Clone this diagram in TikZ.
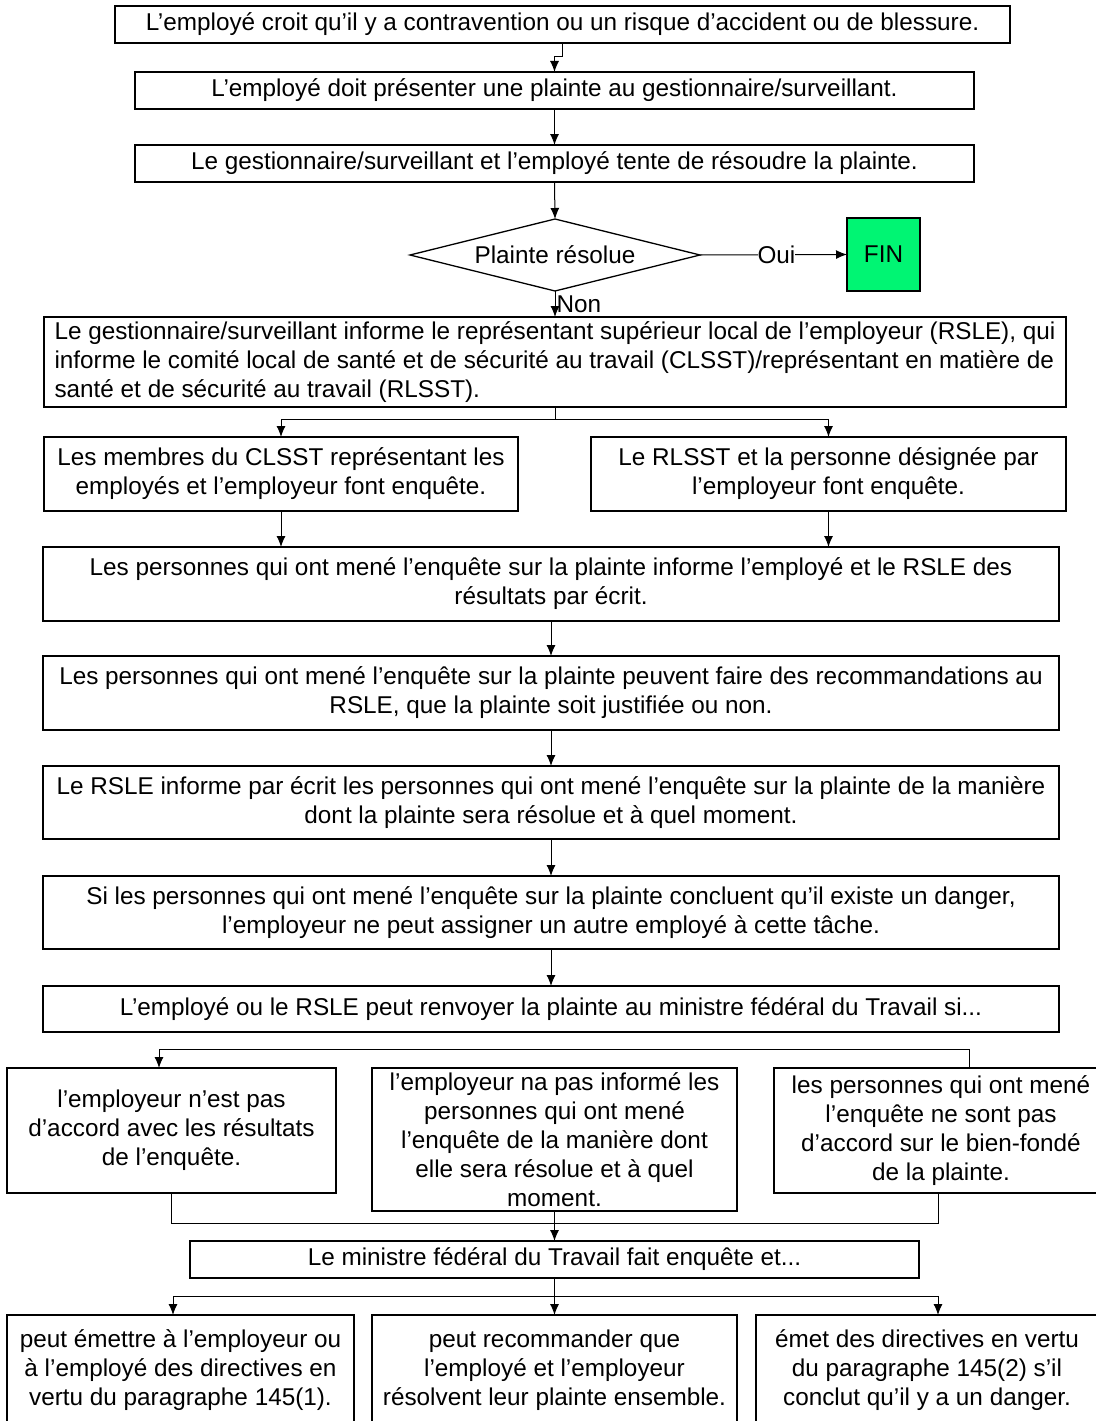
\documentclass[tikz,border=0pt]{standalone}
\usepackage{fontspec}
\setmainfont{Liberation Sans}
\usetikzlibrary{arrows.meta,shapes.geometric}
\definecolor{fingreen}{RGB}{0,245,115}
\begin{document}
\begin{tikzpicture}[x=1pt,y=-1pt,
  box/.style={draw=black,line width=1.3pt,align=center,inner sep=0pt,outer sep=0pt,font=\fontsize{24.3}{29}\selectfont},
  lbox/.style={box,align=left},
  conn/.style={line width=1pt},
  arr/.style={conn,-{Latex[length=11pt,width=9pt]}},
  lbl/.style={font=\fontsize{24.3}{29}\selectfont,inner sep=0pt}]
\useasboundingbox (0,0) rectangle (1095,1421);

\node[box,minimum width=895,minimum height=37] (b1) at (562.5,24.5) {L’employé croit qu’il y a contravention ou un risque d’accident ou de blessure.};
\node[box,minimum width=839,minimum height=37] (b2) at (554.5,90.5) {L’employé doit présenter une plainte au gestionnaire/surveillant.};
\node[box,minimum width=839,minimum height=37] (b3) at (554.5,163.5) {Le gestionnaire/surveillant et l’employé tente de résoudre la plainte.};
\node[box,diamond,aspect=4,minimum width=290,minimum height=72] (d) at (555,255) {Plainte résolue};
\node[box,fill=fingreen,minimum width=73,minimum height=73] (fin) at (883.5,254.5) {FIN};
\node[lbox,minimum width=1022,minimum height=90] (b4) at (555,362) {Le gestionnaire/surveillant informe le représentant supérieur local de l’employeur (RSLE), qui\\informe le comité local de santé et de sécurité au travail (CLSST)/représentant en matière de\\santé et de sécurité au travail (RLSST).};
\node[box,minimum width=474,minimum height=74] (b5l) at (281,474) {Les membres du CLSST représentant les\\employés et l’employeur font enquête.};
\node[box,minimum width=475,minimum height=74] (b5r) at (828.5,474) {Le RLSST et la personne désignée par\\l’employeur font enquête.};
\node[box,minimum width=1016,minimum height=74] (b6) at (551,584) {Les personnes qui ont mené l’enquête sur la plainte informe l’employé et le RSLE des\\résultats par écrit.};
\node[box,minimum width=1016,minimum height=74] (b7) at (551,693) {Les personnes qui ont mené l’enquête sur la plainte peuvent faire des recommandations au\\RSLE, que la plainte soit justifiée ou non.};
\node[box,minimum width=1016,minimum height=73] (b8) at (551,802.5) {Le RSLE informe par écrit les personnes qui ont mené l’enquête sur la plainte de la manière\\dont la plainte sera résolue et à quel moment.};
\node[box,minimum width=1016,minimum height=73] (b9) at (551,912.5) {Si les personnes qui ont mené l’enquête sur la plainte concluent qu’il existe un danger,\\l’employeur ne peut assigner un autre employé à cette tâche.};
\node[box,minimum width=1016,minimum height=46] (b10) at (551,1009) {L’employé ou le RSLE peut renvoyer la plainte au ministre fédéral du Travail si...};
\node[box,minimum width=329,minimum height=125] (m1l) at (171.5,1130.5) {l’employeur n’est pas\\d’accord avec les résultats\\de l’enquête.};
\node[box,minimum width=365,minimum height=143] (m1m) at (554.5,1139.5) {l’employeur na pas informé les\\personnes qui ont mené\\l’enquête de la manière dont\\elle sera résolue et à quel\\moment.};
\node[box,minimum width=334,minimum height=125] (m1r) at (941,1130.5) {les personnes qui ont mené\\l’enquête ne sont pas\\d’accord sur le bien-fondé\\de la plainte.};
\node[box,minimum width=729,minimum height=37] (min) at (554.5,1259.5) {Le ministre fédéral du Travail fait enquête et...};
\node[box,minimum width=347,minimum height=110] (bl) at (180.5,1370) {peut émettre à l’employeur ou\\à l’employé des directives en\\vertu du paragraphe 145(1).};
\node[box,minimum width=365,minimum height=110] (bm) at (554.5,1370) {peut recommander que\\l’employé et l’employeur\\résolvent leur plainte ensemble.};
\node[box,minimum width=342,minimum height=110] (br) at (927,1370) {émet des directives en vertu\\du paragraphe 145(2) s’il\\conclut qu’il y a un danger.};

% connectors
\draw[arr] (b1.south) -- ++(0,14) -| (b2.north);
\draw[arr] (b2.south) -- (b3.north);
\draw[arr] (b3.south) -- (d.north);
\draw[arr] (d.east) -- node[lbl,fill=white,pos=0.52] {Oui} (fin.west);
\draw[arr] (d.south) -- node[lbl,anchor=west,pos=0.5,xshift=1pt] {Non} (b4.north);
\draw[conn] (b4.south) -- ++(0,12) coordinate (s1);
\draw[arr] (s1) -| (b5l.north);
\draw[arr] (s1) -| (b5r.north);
\draw[arr] (b5l.south) -- (b5l.south |- b6.north);
\draw[arr] (b5r.south) -- (b5r.south |- b6.north);
\draw[arr] (b6.south) -- (b7.north);
\draw[arr] (b7.south) -- (b8.north);
\draw[arr] (b8.south) -- (b9.north);
\draw[arr] (b9.south) -- (b10.north);
\coordinate (rtop) at ([xshift=28pt]m1r.north);
\coordinate (ltop) at ([xshift=-12.5pt]m1l.north);
\draw[arr] (rtop) -- ++(0,-19) -| (ltop);
\coordinate (rbot) at ([xshift=-3pt]m1r.south);
\draw[conn] (m1l.south) -- ++(0,30) -| (rbot);
\draw[arr] (m1m.south) -- (min.north);
\draw[conn] (min.south) -- ++(0,18) coordinate (s2);
\coordinate (bltop) at ([xshift=-7.5pt]bl.north);
\coordinate (brtop) at ([xshift=11pt]br.north);
\draw[arr] (s2) -| (bltop);
\draw[arr] (s2) -- (bm.north);
\draw[arr] (s2) -| (brtop);
\end{tikzpicture}
\end{document}
